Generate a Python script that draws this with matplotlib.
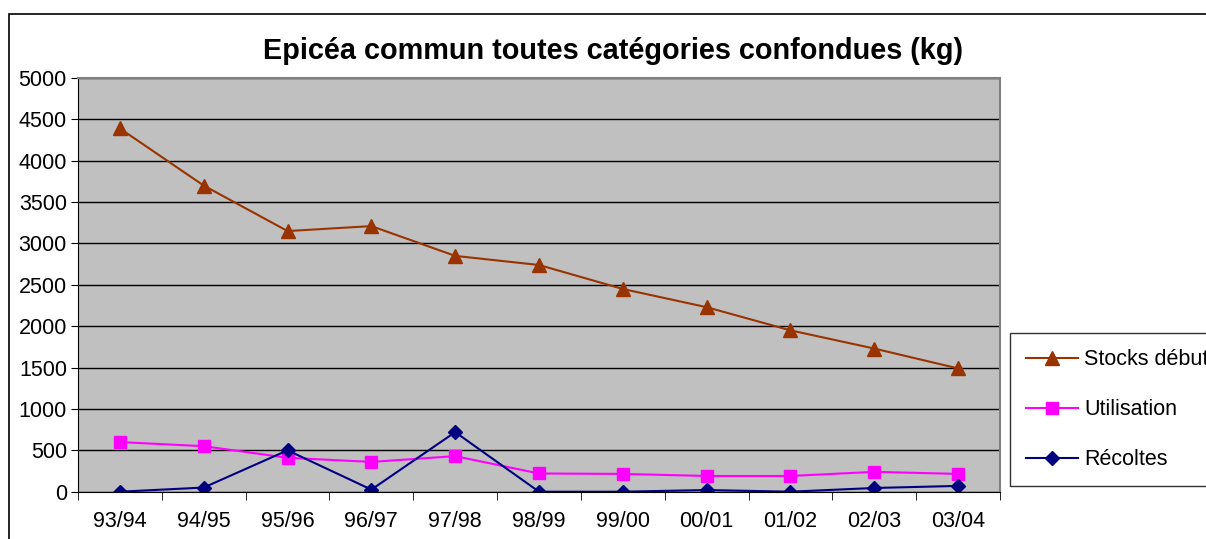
import matplotlib
matplotlib.use("Agg")
import matplotlib.pyplot as plt
from matplotlib.patches import Rectangle

saisons = ["93/94", "94/95", "95/96", "96/97", "97/98", "98/99",
           "99/00", "00/01", "01/02", "02/03", "03/04"]
stocks = [4390, 3700, 3150, 3210, 2850, 2740, 2450, 2230, 1950, 1730, 1490]
utilisation = [600, 550, 410, 360, 430, 220, 215, 190, 190, 240, 215]
recoltes = [0, 50, 500, 25, 720, 0, 0, 20, 0, 45, 70]

plt.rcParams['font.family'] = ['Liberation Sans', 'DejaVu Sans']

fig = plt.figure(figsize=(12.06, 5.39), dpi=100)
ax = fig.add_axes([78/1206, 1 - 491.7/539, 922/1206, 413.7/539])

# cadre du graphique (coupé à droite et en bas)
fig.patches.append(Rectangle((9/1206, -0.1), 1.2, 1 - 14/539 + 0.1,
                             transform=fig.transFigure, fill=False,
                             edgecolor='black', linewidth=1.2))

x = list(range(len(saisons)))
ax.set_facecolor('#C0C0C0')
ax.plot(x, stocks, color='#993300', marker='^', markersize=10, lw=1.5,
        label='Stocks début')
ax.plot(x, utilisation, color='#FF00FF', marker='s', markersize=8.5, lw=1.5,
        label='Utilisation')
ax.plot(x, recoltes, color='#000080', marker='D', markersize=7.5, lw=1.5,
        label='Récoltes')

ax.set_xlim(-0.5, len(saisons) - 0.5)
ax.set_ylim(0, 5000)
ax.set_yticks(range(0, 5001, 500))
ax.yaxis.grid(True, color='black', lw=1)
ax.set_axisbelow(True)
ax.set_xticks(x)
ax.set_xticklabels(saisons)
ax.set_xticks([i - 0.5 for i in range(len(saisons) + 1)], minor=True)
ax.tick_params(axis='x', which='major', length=0, pad=14, labelsize=15.5)
ax.tick_params(axis='x', which='minor', length=6, color='black', direction='out')
ax.tick_params(axis='y', length=5, labelsize=15.5, pad=3)

for s in ['top', 'right']:
    ax.spines[s].set_color('#808080')
    ax.spines[s].set_linewidth(1.5)
for s in ['left', 'bottom']:
    ax.spines[s].set_color('black')

# titre centré sur toute la zone du graphique, pas sur les axes
ax.set_title('Epicéa commun toutes catégories confondues (kg)',
             fontsize=20.8, fontweight='bold', pad=14, x=0.58)

leg = fig.legend(loc='upper left', bbox_to_anchor=(1010/1206, 1 - 333/539),
                 fontsize=15.5, frameon=True, fancybox=False, edgecolor='black',
                 handlelength=2.4, handletextpad=0.3, labelspacing=1.35,
                 borderpad=0.75, borderaxespad=0)
leg.get_frame().set_linewidth(1.0)

fig.savefig('out.png', dpi=100, facecolor='white')
